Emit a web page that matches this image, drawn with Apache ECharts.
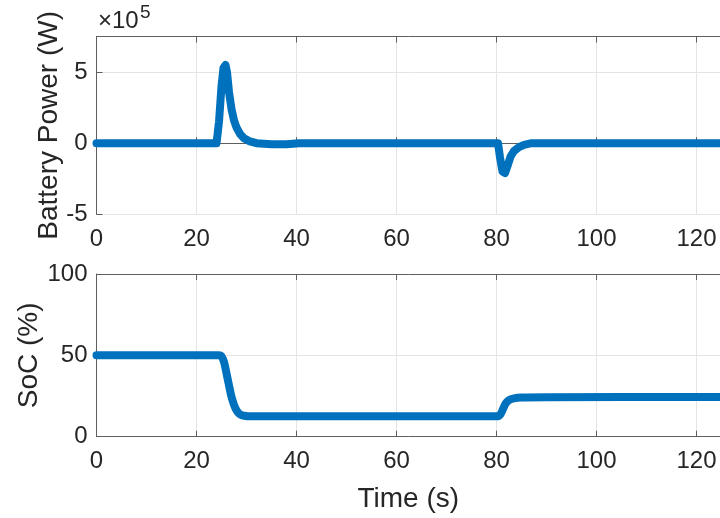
<!DOCTYPE html>
<html>
<head>
<meta charset="utf-8">
<script src="https://cdn.jsdelivr.net/npm/echarts@6/dist/echarts.min.js"></script>
<style>
  html, body { margin: 0; padding: 0; background: #ffffff; }
  #chart { width: 720px; height: 518px; }
</style>
</head>
<body>
<div id="chart"></div>
<script>
// Battery power during the run (W)
const powerTime = [0, 24.0, 24.5, 25.0, 25.4, 25.8, 26.1, 26.5, 27.0, 27.5, 28.0, 28.7, 29.5, 30.5, 32.0, 35.0, 38.0, 40.5,
                   80.3, 80.7, 81.2, 81.7, 82.2, 82.8, 83.5, 84.5, 85.5, 87.0, 125];
const powerW = [0, 0, 1.5e5, 4.0e5, 5.3e5, 5.5e5, 5.0e5, 3.6e5, 2.4e5, 1.6e5, 1.1e5, 0.65e5, 0.35e5, 0.15e5, 0.0, -0.08e5, -0.08e5, 0,
                0, -1.0e5, -2.0e5, -2.1e5, -1.6e5, -0.95e5, -0.55e5, -0.28e5, -0.12e5, 0, 0];

// Battery state of charge (%)
const socTime = [0, 24.6, 25.0, 25.5, 26.0, 26.5, 27.0, 27.5, 28.0, 28.6, 29.5, 31.0, 40.0, 80.3, 80.8, 81.3, 81.8, 82.5, 83.5, 85.0, 90.0, 125];
const socPct = [50, 50, 49.5, 46, 39, 31.5, 24.5, 19.5, 16.2, 14.0, 12.9, 12.5, 12.5, 12.6, 13.8, 17.0, 20.2, 22.5, 23.6, 24.1, 24.3, 24.4];

// Axis ranges and tick steps
const timeRange = [0, 124.7];
const timeStep = 20;
const powerRange = [-5e5, 7.5e5];
const powerStep = 5e5;
const powerScale = 1e5;
const socRange = [0, 100];
const socStep = 50;

const FONT = '"Liberation Sans", Arial, Helvetica, sans-serif';
const TEXT = '#262626';
const AXIS = '#5f5f5f';
const GRIDC = '#e4e4e4';
const BLUE = '#0072BD';

function xAxisFor(grid, pos, withLabels, name) {
  return {
    type: 'value', gridIndex: grid, position: pos,
    min: timeRange[0], max: timeRange[1], interval: timeStep,
    axisLine: { show: true, lineStyle: { color: AXIS, width: 1 } },
    axisTick: { show: true, inside: true, length: 6, lineStyle: { color: AXIS } },
    axisLabel: { show: withLabels, showMaxLabel: false, color: TEXT, fontSize: 24, fontFamily: FONT, margin: 13 },
    splitLine: { show: withLabels, lineStyle: { color: GRIDC, width: 1 } },
    name: name || '', nameLocation: 'middle', nameGap: 49, nameMoveOverlap: false,
    nameTextStyle: { color: TEXT, fontSize: 28, fontFamily: FONT }
  };
}

function yAxisFor(grid, range, step, name, gap, fmt) {
  return {
    type: 'value', gridIndex: grid, position: 'left',
    min: range[0], max: range[1], interval: step,
    axisLine: { show: true, lineStyle: { color: AXIS, width: 1 } },
    axisTick: { show: true, inside: true, length: 6, lineStyle: { color: AXIS } },
    axisLabel: { color: TEXT, fontSize: 24, fontFamily: FONT, margin: 9, showMaxLabel: range[1] % step === 0, formatter: fmt },
    splitLine: { show: true, lineStyle: { color: GRIDC, width: 1 } },
    name: name, nameLocation: 'middle', nameRotate: 90, nameGap: gap, nameMoveOverlap: false,
    nameTextStyle: { color: TEXT, fontSize: 28, fontFamily: FONT }
  };
}

const chart = echarts.init(document.getElementById('chart'), null, { renderer: 'canvas' });
chart.setOption({
  backgroundColor: '#ffffff',
  animation: false,
  grid: [
    { left: 96.5, top: 36.5, right: 0, height: 177.8, outerBoundsMode: 'none' },
    { left: 96.5, top: 274, right: 0, height: 162.7, outerBoundsMode: 'none' }
  ],
  xAxis: [
    xAxisFor(0, 'bottom', true),
    xAxisFor(0, 'top', false),
    xAxisFor(1, 'bottom', true, 'Time (s)'),
    xAxisFor(1, 'top', false)
  ],
  yAxis: [
    yAxisFor(0, powerRange, powerStep, 'Battery Power (W)', 33, v => String(v / powerScale)),
    yAxisFor(1, socRange, socStep, 'SoC (%)', 53, v => String(v))
  ],
  graphic: [
    { type: 'text', x: 98, y: 21, style: { text: '×10', font: '24px ' + FONT, fill: TEXT, verticalAlign: 'middle' } },
    { type: 'text', x: 140, y: 13, style: { text: '5', font: '19px ' + FONT, fill: TEXT, verticalAlign: 'middle' } }
  ],
  series: [
    {
      type: 'line', xAxisIndex: 0, yAxisIndex: 0, showSymbol: false, symbol: 'none',
      data: powerTime.map((t, i) => [t, powerW[i]]),
      lineStyle: { color: BLUE, width: 8, cap: 'round', join: 'round' }
    },
    {
      type: 'line', xAxisIndex: 2, yAxisIndex: 1, showSymbol: false, symbol: 'none', smooth: 0.3,
      data: socTime.map((t, i) => [t, socPct[i]]),
      lineStyle: { color: BLUE, width: 8, cap: 'round', join: 'round' }
    }
  ]
});
</script>
</body>
</html>
